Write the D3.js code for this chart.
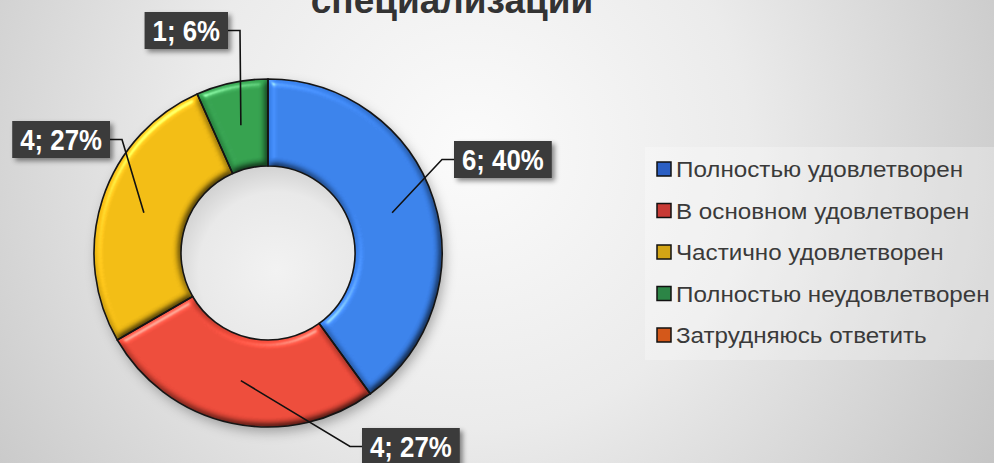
<!DOCTYPE html>
<html>
<head>
<meta charset="utf-8">
<script src="https://d3js.org/d3.v7.min.js"></script>
<style>
  html, body { margin: 0; padding: 0; overflow: hidden; }
  * { font-family: Arial, "Liberation Sans", sans-serif; }
  .legend text { font-size: 22px; fill: #3a3a3a; }
  .lbl text { font-size: 29px; font-weight: bold; fill: #fff; }
  filter { color-interpolation-filters: sRGB; }
</style>
</head>
<body>
<div id="chart"></div>
<script>
// data
var categories = ["Полностью удовлетворен", "В основном удовлетворен", "Частично удовлетворен", "Полностью неудовлетворен", "Затрудняюсь ответить"];
var values = [6, 4, 4, 1, 0];
var percentLabels = ["40%", "27%", "27%", "6%", ""];
var colors = ["#3b84f0", "#f24c3b", "#f7c014", "#35a450", "#f26b1d"];
var legendColors = ["#2b5fc4", "#c83a35", "#d3a515", "#2c8546", "#d4581a"];
var titleText = "специализации";

// layout
var width = 994, height = 463;
var cx = 268, cy = 253, rOuter = 174, rInner = 87;
// label box anchors: side = which box edge the leader attaches to
var labelPos = [
  {x: 454, y: 141, side: "left"},
  {x: 362, y: 428, side: "left"},
  {x: 110, y: 121, side: "right"},
  {x: 228, y: 12, side: "right"}
];
var squeeze = 0.89, stretch = 1.1;

var svg = d3.select("#chart").append("svg")
  .attr("width", width).attr("height", height);

var defs = svg.append("defs");

var bg = defs.append("radialGradient").attr("id", "bg")
  .attr("gradientUnits", "userSpaceOnUse")
  .attr("cx", 470).attr("cy", 150).attr("r", 620);
bg.append("stop").attr("offset", "0").attr("stop-color", "#fbfbfb");
bg.append("stop").attr("offset", "0.45").attr("stop-color", "#ebebeb");
bg.append("stop").attr("offset", "1").attr("stop-color", "#c4c4c4");

var hole = defs.append("radialGradient").attr("id", "hole")
  .attr("cx", "55%").attr("cy", "60%").attr("r", "60%");
hole.append("stop").attr("offset", "0").attr("stop-color", "#f2f2f2");
hole.append("stop").attr("offset", "0.75").attr("stop-color", "#e9e9e9");
hole.append("stop").attr("offset", "1").attr("stop-color", "#d2d2d2");

// bevel look for the slices
var bevel = defs.append("filter").attr("id", "bevel")
  .attr("x", "-10%").attr("y", "-10%").attr("width", "120%").attr("height", "120%");
bevel.append("feGaussianBlur").attr("in", "SourceAlpha").attr("stdDeviation", 3.5).attr("result", "blur");
bevel.append("feDiffuseLighting").attr("in", "blur").attr("surfaceScale", 4)
  .attr("diffuseConstant", 1.12).attr("lighting-color", "#fff").attr("result", "diff")
  .append("feDistantLight").attr("azimuth", 235).attr("elevation", 60);
bevel.append("feSpecularLighting").attr("in", "blur").attr("surfaceScale", 4)
  .attr("specularConstant", 0.7).attr("specularExponent", 40).attr("lighting-color", "#fff").attr("result", "spec")
  .append("feDistantLight").attr("azimuth", 235).attr("elevation", 45);
bevel.append("feComposite").attr("in", "spec").attr("in2", "SourceAlpha").attr("operator", "in").attr("result", "specIn");
bevel.append("feComposite").attr("in", "SourceGraphic").attr("in2", "diff")
  .attr("operator", "arithmetic").attr("k1", 1).attr("k2", 0).attr("k3", 0).attr("k4", 0).attr("result", "lit");
bevel.append("feComposite").attr("in", "lit").attr("in2", "SourceAlpha").attr("operator", "in").attr("result", "litIn");
bevel.append("feComposite").attr("in", "litIn").attr("in2", "specIn")
  .attr("operator", "arithmetic").attr("k1", 0).attr("k2", 1).attr("k3", 0.5).attr("k4", 0);

var ringShadow = defs.append("filter").attr("id", "ringShadow")
  .attr("x", "-20%").attr("y", "-20%").attr("width", "140%").attr("height", "140%");
ringShadow.append("feDropShadow").attr("dx", 3).attr("dy", 5).attr("stdDeviation", 6)
  .attr("flood-color", "#000").attr("flood-opacity", 0.3);

var boxShadow = defs.append("filter").attr("id", "boxShadow")
  .attr("x", "-20%").attr("y", "-30%").attr("width", "140%").attr("height", "160%");
boxShadow.append("feDropShadow").attr("dx", 3).attr("dy", 3).attr("stdDeviation", 2.5)
  .attr("flood-color", "#000").attr("flood-opacity", 0.45);

svg.append("rect").attr("width", width).attr("height", height).attr("fill", "url(#bg)");

// title (only the lower line shows in the frame)
svg.append("text")
  .attr("x", 452).attr("y", 13)
  .attr("text-anchor", "middle")
  .style("font-size", "37px").style("font-weight", "bold").style("fill", "#333")
  .text(titleText);

// donut
var data = categories.map(function(c, i) { return {name: c, value: values[i], pct: percentLabels[i], color: colors[i]}; });
var pie = d3.pie().sort(null).value(function(d) { return d.value; });
var arc = d3.arc().innerRadius(rInner).outerRadius(rOuter);
var arcs = pie(data).filter(function(d) { return d.data.value > 0; });

var ring = svg.append("g").attr("transform", "translate(" + cx + "," + cy + ")");
ring.append("g").attr("filter", "url(#ringShadow)")
  .selectAll("path").data(arcs).enter().append("path")
  .attr("d", arc).attr("fill", "#888");
ring.append("circle").attr("r", rInner).attr("fill", "url(#hole)");
ring.selectAll("path.slice").data(arcs).enter().append("path")
  .attr("class", "slice")
  .attr("d", arc)
  .attr("fill", function(d) { return d.data.color; })
  .attr("filter", "url(#bevel)");
ring.selectAll("path.edge").data(arcs).enter().append("path")
  .attr("class", "edge")
  .attr("d", arc)
  .attr("fill", "none").attr("stroke", "#151515").attr("stroke-width", 1.6);

// data labels with leader lines
var labels = svg.append("g").attr("class", "lbl");
arcs.forEach(function(d, i) {
  var p = labelPos[i];
  var g = labels.append("g");
  var t = g.append("text").text(d.data.value + "; " + d.data.pct);
  var tw = t.node().getComputedTextLength() * squeeze;
  var bw = tw + 16, bh = 37;
  var bx = p.side === "left" ? p.x : p.x - bw;
  var midY = p.y + bh / 2;
  var c = arc.centroid(d);
  var edgeX = p.side === "left" ? bx : bx + bw;
  var elbowX = p.side === "left" ? edgeX - 12 : edgeX + 12;
  svg.insert("path", ".lbl")
    .attr("d", d3.line()([[cx + c[0], cy + c[1]], [elbowX, midY], [edgeX, midY]]))
    .attr("fill", "none").attr("stroke", "#111").attr("stroke-width", 1.6);
  g.insert("rect", "text")
    .attr("x", bx).attr("y", p.y).attr("width", bw).attr("height", bh)
    .attr("fill", "#3b3b3b").attr("filter", "url(#boxShadow)");
  t.attr("transform", "translate(" + (bx + 8) + "," + (p.y + 29) + ") scale(" + squeeze + ",1)");
});

// legend
var legend = svg.append("g").attr("class", "legend");
legend.append("rect").attr("x", 645).attr("y", 147).attr("width", 360).attr("height", 213)
  .attr("fill", "#fff").attr("fill-opacity", 0.28);
var yL = d3.scalePoint().domain(categories).range([177, 343]);
var items = legend.selectAll("g.item").data(data).enter().append("g").attr("class", "item")
  .attr("transform", function(d) { return "translate(657," + yL(d.name) + ")"; });
items.append("rect").attr("x", 0).attr("y", -15).attr("width", 14).attr("height", 14)
  .attr("fill", function(d, i) { return legendColors[i]; })
  .attr("stroke", "#111").attr("stroke-width", 1.5);
items.append("text")
  .attr("transform", "translate(19,0) scale(" + stretch + ",1)")
  .text(function(d) { return d.name; });
</script>
</body>
</html>
